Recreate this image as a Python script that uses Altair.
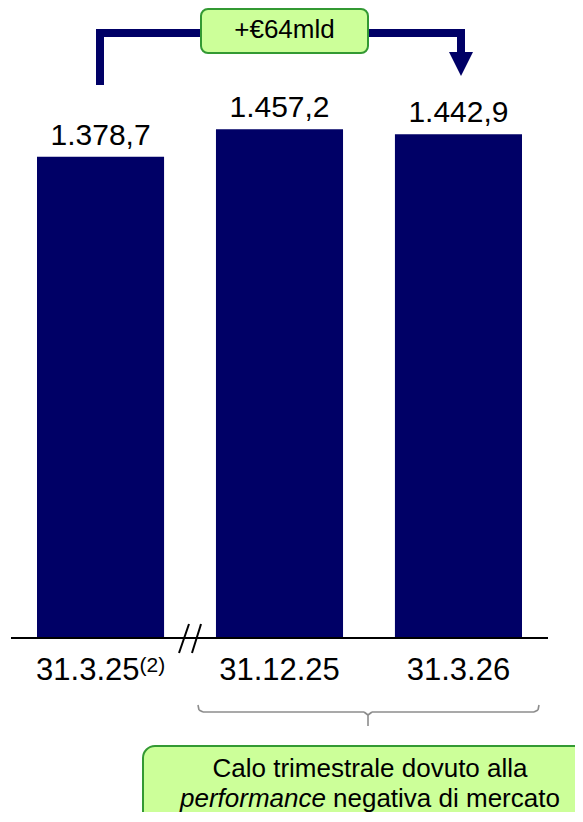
import altair as alt
import pandas as pd

# ---- data ----
categories = ["31.3.25", "31.12.25", "31.3.26"]
values = [1378.7, 1457.2, 1442.9]
value_labels = ["1.378,7", "1.457,2", "1.442,9"]
footnotes = ["(2)", "", ""]
delta_label = "+€64mld"
note_line1 = "Calo trimestrale dovuto alla"
note_italic = "performance"
note_rest = "negativa di mercato"

df = pd.DataFrame({"cat": categories, "value": values,
                   "label": value_labels, "fn": footnotes})
one = pd.DataFrame({"k": [0]})

W, H = 567, 804
NAVY = "#000066"
GREEN_FILL = "#ccff99"
GREEN_STROKE = "#339933"
GREY = "#8c8c8c"
FONT = "Liberation Sans"

x = alt.X("cat:N", sort=categories,
          scale=alt.Scale(range=[29, 514], paddingInner=0.29, paddingOuter=0),
          axis=None)
y = alt.Y("value:Q", scale=alt.Scale(domain=[0, 1804.6], range=[630, 0], nice=False),
          axis=None)

base = alt.Chart(df)

bars = base.mark_bar(color=NAVY).encode(x=x, y=y)

val_text = base.mark_text(font=FONT, fontSize=30, baseline="alphabetic", dy=-12,
                          color="black").encode(x=x, y=y, text="label:N")

cat_text = base.transform_filter("datum.fn == ''").mark_text(
    font=FONT, fontSize=31, baseline="alphabetic", color="black"
).encode(x=x, y=alt.value(672), text="cat:N")

cat_first = base.transform_filter("datum.fn != ''").mark_text(
    font=FONT, fontSize=31, baseline="alphabetic", align="right", dx=39, color="black"
).encode(x=x, y=alt.value(672), text="cat:N")

cat_sup = base.transform_filter("datum.fn != ''").mark_text(
    font=FONT, fontSize=21, baseline="alphabetic", align="left", dx=39, color="black"
).encode(x=x, y=alt.value(664), text="fn:N")


def rule(x1, y1, x2, y2, color, width, cap="butt"):
    return alt.Chart(one).mark_rule(color=color, strokeWidth=width, strokeCap=cap).encode(
        x=alt.value(x1), y=alt.value(y1), x2=alt.value(x2), y2=alt.value(y2))


axis_line = rule(3, 630, 540, 630, "black", 2)
break1 = rule(171, 645, 181, 616, "black", 2)
break2 = rule(184, 645, 193, 616, "black", 2)

# top arrow
arr_left = rule(92, 77, 92, 21, NAVY, 8)
arr_top = rule(92, 25, 453, 25, NAVY, 8, "square")
arr_right = rule(453, 21, 453, 46, NAVY, 8)
arr_head = alt.Chart(one).mark_point(
    shape="M -1 -1 L 1 -1 L 0 1 Z", size=576, filled=True, color=NAVY, opacity=1,
    strokeWidth=0
).encode(x=alt.value(453), y=alt.value(56))

top_box = alt.Chart(one).mark_rect(
    fill=GREEN_FILL, stroke=GREEN_STROKE, strokeWidth=2, cornerRadius=7
).encode(x=alt.value(193), x2=alt.value(360), y=alt.value(1), y2=alt.value(45))
top_text = alt.Chart(one).mark_text(
    font=FONT, fontSize=26, baseline="middle", align="center", color="black",
    text=delta_label
).encode(x=alt.value(276.5), y=alt.value(22))

# brace
brace = alt.layer(
    rule(190, 697, 191, 702, GREY, 1.6),
    rule(191, 702, 195, 704, GREY, 1.6),
    rule(195, 704, 356, 704, GREY, 1.6),
    rule(356, 704, 360, 707, GREY, 1.6),
    rule(360, 707, 360, 718, GREY, 1.6),
    rule(360, 707, 364, 704, GREY, 1.6),
    rule(364, 704, 526, 704, GREY, 1.6),
    rule(526, 704, 530, 702, GREY, 1.6),
    rule(530, 702, 531, 697, GREY, 1.6),
)

# bottom note box
note_box = alt.Chart(one).mark_rect(
    fill=GREEN_FILL, stroke=GREEN_STROKE, strokeWidth=2, cornerRadius=12
).encode(x=alt.value(135), x2=alt.value(620), y=alt.value(738), y2=alt.value(850))
note1 = alt.Chart(one).mark_text(
    font=FONT, fontSize=26, baseline="alphabetic", align="center", color="black",
    text=note_line1
).encode(x=alt.value(362), y=alt.value(769))
note2a = alt.Chart(one).mark_text(
    font=FONT, fontSize=26, fontStyle="italic", baseline="alphabetic", align="left",
    color="black", text=note_italic
).encode(x=alt.value(172), y=alt.value(799))
note2b = alt.Chart(one).mark_text(
    font=FONT, fontSize=26, baseline="alphabetic", align="left", color="black",
    text=note_rest
).encode(x=alt.value(325), y=alt.value(799))

chart = alt.layer(
    bars, axis_line, break1, break2, val_text, cat_text, cat_first, cat_sup,
    arr_left, arr_top, arr_right, arr_head, top_box, top_text,
    brace, note_box, note1, note2a, note2b
).properties(
    width=W, height=H, padding=0, autosize="none"
).configure_view(stroke=None)

chart.save("out.html", embed_options={"renderer": "svg", "actions": False})
